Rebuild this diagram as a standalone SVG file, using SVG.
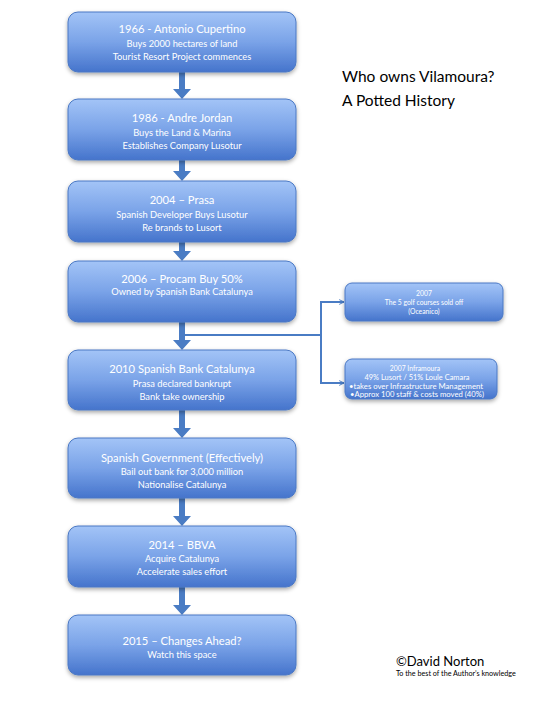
<svg xmlns="http://www.w3.org/2000/svg" width="540" height="720" viewBox="0 0 540 720">
<defs>
<linearGradient id="g" x1="0" y1="0" x2="0" y2="1">
<stop offset="0" stop-color="#a3c4f7"/>
<stop offset="0.5" stop-color="#7aa3e8"/>
<stop offset="1" stop-color="#4574cc"/>
</linearGradient>
<filter id="sh" x="-10%" y="-10%" width="120%" height="140%">
<feDropShadow dx="0" dy="2" stdDeviation="2" flood-color="#000" flood-opacity="0.35"/>
</filter>
<marker id="ah" viewBox="0 0 10 10" refX="9" refY="5" markerWidth="6" markerHeight="6" orient="auto" markerUnits="userSpaceOnUse">
<path d="M1,1 L9,5 L1,9" fill="none" stroke="#4a7cc4" stroke-width="1.6"/>
</marker>
</defs>
<style>
.box{fill:url(#g);stroke:#4a78c4;stroke-width:1;filter:url(#sh)}
.t{font-family:Lato,"Liberation Sans",sans-serif;fill:#fff;text-anchor:middle}
.h{font-size:11.2px}
.s{font-size:9.3px}
.xs{font-size:6.8px}
.arr{fill:#4a7cc4}
.ln{fill:none;stroke:#4a7cc4;stroke-width:2}
.k{font-family:Lato,"Liberation Sans",sans-serif;fill:#000}
</style>
<rect width="540" height="720" fill="#fff"/>
<g id="connectors">
<path class="arr" d="M179,72 h6 v17 h6 l-9,10 l-9,-10 h6 z"/>
<path class="arr" d="M179,160 h6 v11 h6 l-9,10 l-9,-10 h6 z"/>
<path class="arr" d="M179,242 h6 v9 h6 l-9,10 l-9,-10 h6 z"/>
<path class="arr" d="M179,322 h6 v18 h6 l-9,10 l-9,-10 h6 z"/>
<path class="arr" d="M179,410 h6 v18 h6 l-9,10 l-9,-10 h6 z"/>
<path class="arr" d="M179,498 h6 v18 h6 l-9,10 l-9,-10 h6 z"/>
<path class="arr" d="M179,587 h6 v18 h6 l-9,10 l-9,-10 h6 z"/>
<path class="ln" d="M185,335 H321"/>
<path class="ln" d="M321,302 V383"/>
<path class="ln" d="M320,302 H344" marker-end="url(#ah)"/>
<path class="ln" d="M320,383 H344" marker-end="url(#ah)"/>
</g>
<g id="n1"><rect class="box" x="68" y="12" width="228" height="60" rx="10"/>
<text class="t h" x="182" y="33">1966 - Antonio Cupertino</text>
<text class="t s" x="182" y="47">Buys 2000 hectares of land</text>
<text class="t s" x="182" y="60">Tourist Resort Project commences</text></g>
<g id="n2"><rect class="box" x="68" y="99" width="228" height="61" rx="10"/>
<text class="t h" x="182" y="122">1986 - Andre Jordan</text>
<text class="t s" x="182" y="136">Buys the Land &amp; Marina</text>
<text class="t s" x="182" y="149">Establishes Company Lusotur</text></g>
<g id="n3"><rect class="box" x="68" y="181" width="228" height="61" rx="10"/>
<text class="t h" x="182" y="204">2004 – Prasa</text>
<text class="t s" x="182" y="218">Spanish Developer Buys Lusotur</text>
<text class="t s" x="182" y="231">Re brands to Lusort</text></g>
<g id="n4"><rect class="box" x="68" y="261" width="228" height="61" rx="10"/>
<text class="t h" x="182" y="283">2006 – Procam Buy 50%</text>
<text class="t s" x="182" y="295">Owned by Spanish Bank Catalunya</text></g>
<g id="n5"><rect class="box" x="68" y="350" width="228" height="60" rx="10"/>
<text class="t h" x="182" y="373">2010 Spanish Bank Catalunya</text>
<text class="t s" x="182" y="387">Prasa declared bankrupt</text>
<text class="t s" x="182" y="400">Bank  take ownership</text></g>
<g id="n6"><rect class="box" x="68" y="438" width="228" height="60" rx="10"/>
<text class="t h" x="182" y="462">Spanish Government (Effectively)</text>
<text class="t s" x="182" y="475">Bail out bank for 3,000 million</text>
<text class="t s" x="182" y="488">Nationalise Catalunya</text></g>
<g id="n7"><rect class="box" x="68" y="526" width="228" height="61" rx="10"/>
<text class="t h" x="182" y="549">2014 – BBVA</text>
<text class="t s" x="182" y="562">Acquire Catalunya</text>
<text class="t s" x="182" y="575">Accelerate sales effort</text></g>
<g id="n8"><rect class="box" x="68" y="615" width="228" height="60" rx="10"/>
<text class="t h" x="182" y="645">2015 – Changes Ahead?</text>
<text class="t s" x="182" y="658">Watch this space</text></g>
<g id="b1"><rect class="box" x="345" y="283" width="158" height="38" rx="7"/>
<text class="t xs" x="424" y="296">2007</text>
<text class="t xs" x="424" y="305">The 5 golf courses sold off</text>
<text class="t xs" x="424" y="314">(Oceanico)</text></g>
<g id="b2"><rect class="box" x="345" y="359" width="152" height="40" rx="7"/>
<text class="t xs" x="415" y="371">2007 Inframoura</text>
<text class="t xs" x="417" y="380" textLength="105" lengthAdjust="spacingAndGlyphs">49% Lusort / 51% Loule Camara</text>
<text class="t xs" x="416" y="389" textLength="134" lengthAdjust="spacingAndGlyphs">•takes over Infrastructure Management</text>
<text class="t xs" x="417" y="397" textLength="134" lengthAdjust="spacingAndGlyphs">•Approx 100 staff &amp; costs moved (40%)</text></g>
<g id="title">
<text class="k" x="342" y="82" font-size="15.5">Who owns Vilamoura?</text>
<text class="k" x="342" y="106" font-size="15.5">A Potted History</text>
</g>
<g id="credit">
<text class="k" x="396" y="666" font-size="13">©David Norton</text>
<text class="k" x="396" y="676" font-size="7.2">To the best of the Author’s knowledge</text>
</g>
</svg>
